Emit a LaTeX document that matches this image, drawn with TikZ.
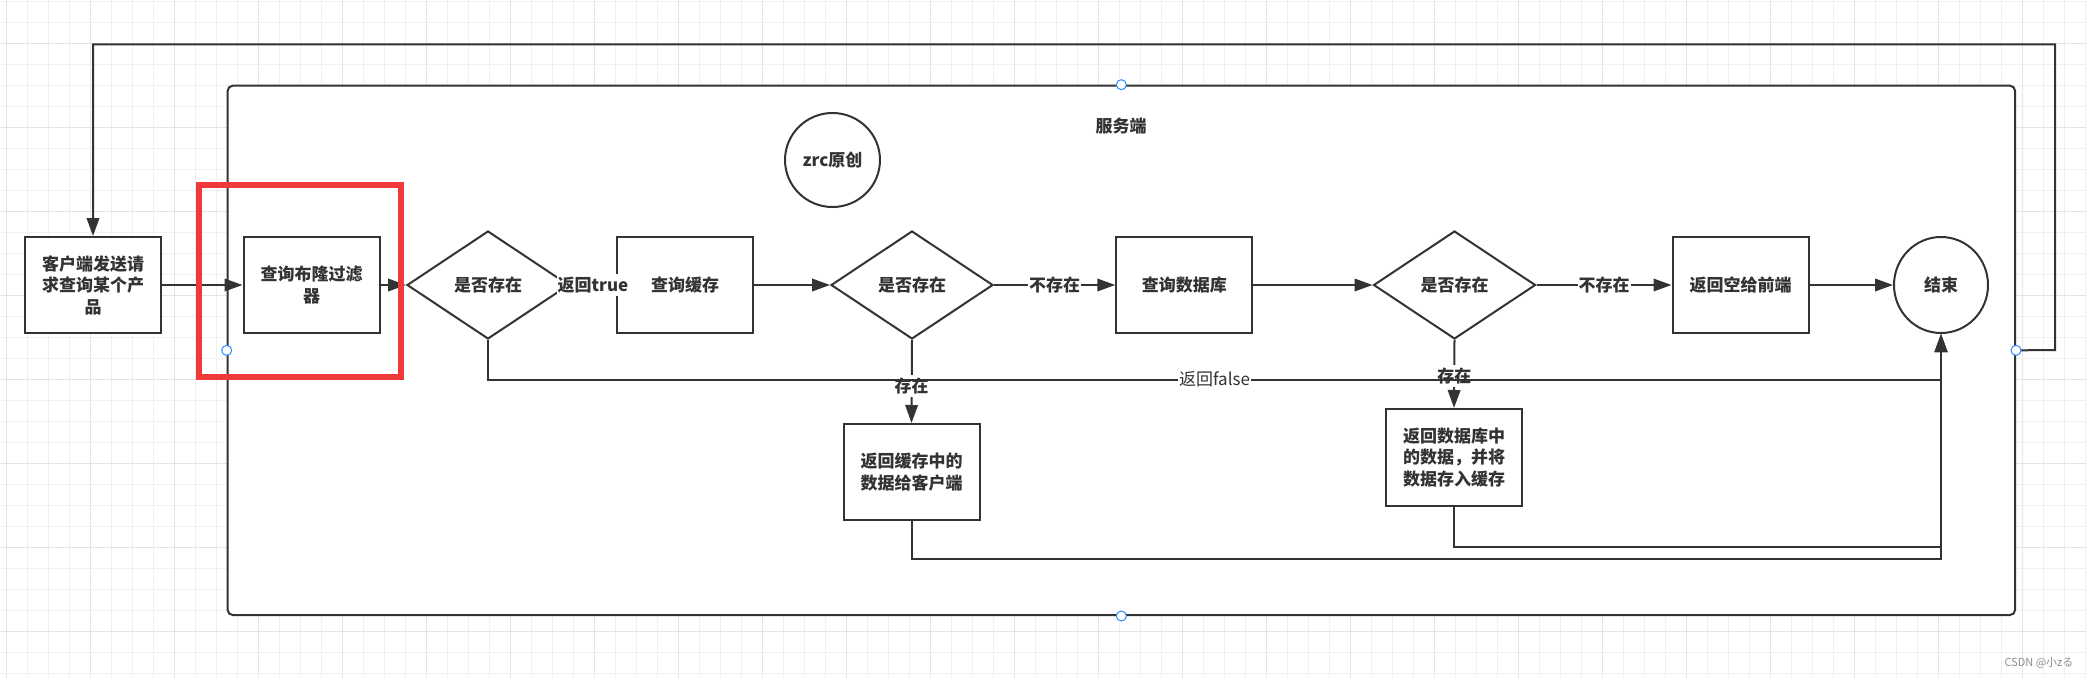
\documentclass[tikz,border=0pt]{standalone}
\usepackage{fontspec}
\setmainfont{Noto Sans CJK SC}
\usetikzlibrary{arrows.meta,shapes.geometric}
\definecolor{ln}{HTML}{333333}
\definecolor{hl}{HTML}{F03A3A}
\definecolor{hdl}{HTML}{2E8BFF}
\definecolor{gridA}{HTML}{F0F0F0}
\definecolor{gridB}{HTML}{E4E4E4}
\begin{document}
\begin{tikzpicture}[x=1pt,y=-1pt,
  txt/.style={font=\fontsize{17}{21.5}\selectfont\bfseries,text=ln,align=center},
  box/.style={txt,draw=ln,line width=2pt,fill=white,minimum width=136pt,minimum height=96pt,inner sep=0pt},
  dia/.style={txt,diamond,draw=ln,line width=2pt,fill=white,minimum width=162pt,minimum height=108pt,inner sep=0pt},
  ell/.style={txt,ellipse,draw=ln,line width=2pt,fill=white,inner sep=0pt},
  arr/.style={draw=ln,line width=2pt,-{Triangle[length=18pt,width=12.5pt]}},
  lbl/.style={txt,fill=white,inner xsep=1pt,inner ysep=3pt},
  handle/.style={circle,draw=hdl,line width=1pt,fill=white,minimum size=10pt,inner sep=0pt},
  container/.style={draw=ln,line width=2pt,fill=white,rounded corners=5pt,minimum width=1787.3pt,minimum height=529.3pt,inner sep=0pt}
]
\useasboundingbox (0,0) rectangle (2086,678);
\fill[white] (0,0) rectangle (2086,678);
% grid
\foreach \i in {0,...,99}{
  \pgfmathtruncatemacro{\m}{mod(\i,4)}
  \ifnum\m=0 \def\gc{gridB}\else\def\gc{gridA}\fi
  \draw[\gc,line width=1pt] (6.7+21*\i,0) -- (6.7+21*\i,678);
}
\foreach \j in {0,...,32}{
  \pgfmathtruncatemacro{\m}{mod(\j,4)}
  \ifnum\m=2 \def\gc{gridB}\else\def\gc{gridA}\fi
  \draw[\gc,line width=1pt] (0,1.7+21*\j) -- (2086,1.7+21*\j);
}
% server container
\node[container] (srv) at (1121.35,350.35) {};
\node[txt] (srvlbl) at (1121,126) {服务端};
\node[ell,minimum width=95pt,minimum height=94pt] (zrc) at (832.5,160) {zrc原创};

% main row
\node[box] (client) at (93,285) {客户端发送请\\求查询某个产\\品};
\node[box] (bloom) at (311.5,285) {查询布隆过滤\\器};
\node[dia] (d1) at (488,285) {是否存在};
\node[box] (cache) at (685,285) {查询缓存};
\node[dia] (d2) at (912,285) {是否存在};
\node[box] (db) at (1184.25,285) {查询数据库};
\node[dia] (d3) at (1454.5,285) {是否存在};
\node[box] (empty) at (1740.5,285) {返回空给前端};
\node[ell,minimum width=94pt,minimum height=96pt] (end) at (1941,285) {结束};
\node[box,minimum height=96pt] (cret) at (911.5,472) {返回缓存中的\\数据给客户端};
\node[box,minimum height=97pt] (dret) at (1454,457.5) {返回数据库中\\的数据，并将\\数据存入缓存};

% coordinates
\coordinate (fc) at (1941,379.5);
\coordinate (cc) at (1941,559);
\coordinate (dc) at (1941,546.5);
\coordinate (lr) at (2055,350);
\coordinate (lt) at (2055,44.3);
\coordinate (ll) at (93,44.3);

% connectors
\draw[arr] (client.east) -- (bloom.west);
\draw[arr] (bloom.east) -- (d1.west);
\draw[arr] (d1.east) -- node[lbl] {返回true} (cache.west);
\draw[arr] (cache.east) -- (d2.west);
\draw[arr] (d2.east) -- node[lbl] {不存在} (db.west);
\draw[arr] (d2.south) -- node[lbl,pos=0.55] {存在} (cret.north);
\draw[arr] (db.east) -- (d3.west);
\draw[arr] (d3.east) -- node[lbl] {不存在} (empty.west);
\draw[arr] (d3.south) -- node[lbl,pos=0.53] {存在} (dret.north);
\draw[arr] (empty.east) -- (end.west);
\draw[arr] (cret.south) |- (cc) -- (end.south);
\draw[arr] (dret.south) |- (dc) -- (end.south);
\draw[arr] (d1.south) |- (fc) node[pos=0.75,fill=white,inner xsep=1pt,inner ysep=2pt,font=\fontsize{17}{20}\selectfont,text=ln] {返回false} -- (end.south);
\draw[arr] (srv.east) -- (lr) -- (lt) -- (ll) -- (client.north);

% selection handles
\node[handle] (h1) at (srv.north) {};
\node[handle] (h2) at (srv.south) {};
\node[handle] (h3) at (srv.west) {};
\node[handle] (h4) at (srv.east) {};

% highlight
\node[draw=hl,line width=6pt,minimum width=201.6pt,minimum height=192.3pt,inner sep=0pt] (hlbox) at (300.2,280.85) {};

% watermark
\node[font=\fontsize{11}{12}\selectfont,text=black!45] (wm) at (2039,663) {CSDN @小zる};
\end{tikzpicture}
\end{document}
